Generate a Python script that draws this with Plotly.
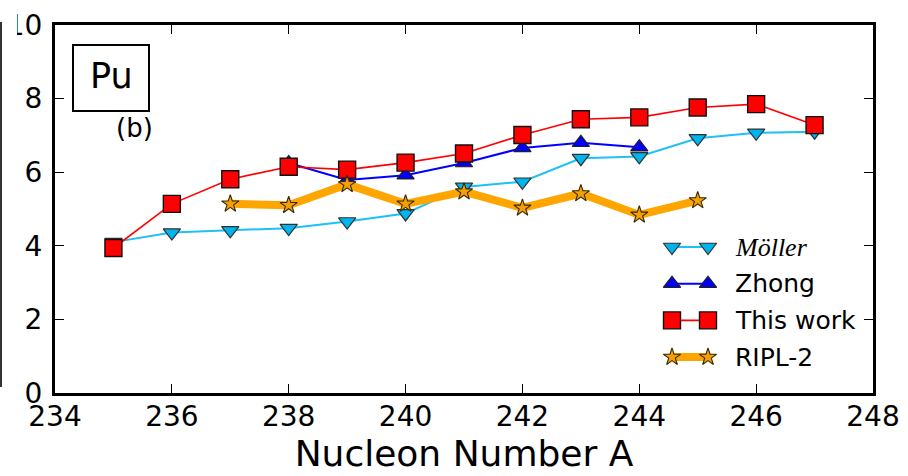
import plotly.graph_objects as go

# ---- data -------------------------------------------------------------
A_moller = [235, 236, 237, 238, 239, 240, 241, 242, 243, 244, 245, 246, 247]
moller = [4.10, 4.36, 4.42, 4.48, 4.66, 4.88, 5.60, 5.74, 6.38, 6.43, 6.92, 7.07, 7.10]

A_zhong = [238, 239, 240, 241, 242, 243, 244]
zhong = [6.25, 5.79, 5.92, 6.25, 6.66, 6.80, 6.68]

A_work = [235, 236, 237, 238, 239, 240, 241, 242, 243, 244, 245, 246, 247]
this_work = [3.94, 5.14, 5.81, 6.15, 6.07, 6.26, 6.51, 7.01, 7.44, 7.49, 7.76, 7.85, 7.28]

A_ripl = [237, 238, 239, 240, 241, 242, 243, 244, 245]
ripl2 = [5.14, 5.10, 5.67, 5.14, 5.47, 5.03, 5.42, 4.84, 5.23]

x_ticks = [234, 236, 238, 240, 242, 244, 246, 248]
y_ticks = [0, 2, 4, 6, 8, 10]

series_names = ["<i>Möller</i>", "Zhong", "This work", "RIPL-2"]

# ---- styles -----------------------------------------------------------
W, H = 908, 476
L, R, T, B = 55, 873, 25, 393          # plot area in pixels
FONT = "DejaVu Sans"

styles = [
    dict(line=dict(color="#1ec0f5", width=2),
         marker=dict(symbol="triangle-down", size=15, color="#00b4ee",
                     line=dict(color="#303030", width=1.2))),
    dict(line=dict(color="#0000ff", width=2),
         marker=dict(symbol="triangle-up", size=15, color="#0000ff",
                     line=dict(color="#202020", width=1.2))),
    dict(line=dict(color="#ff0000", width=1.6),
         marker=dict(symbol="square", size=17, color="#ff0000",
                     line=dict(color="#111111", width=1.4))),
    dict(line=dict(color="#ffa500", width=8),
         marker=dict(symbol="star", size=13, color="#f5a000",
                     line=dict(color="#3a2a00", width=1.1))),
]


def px(x):
    return (x - L) / (R - L)


def py(y):
    return (B - y) / (B - T)


fig = go.Figure()

for xs, ys, st in zip([A_moller, A_zhong, A_work, A_ripl],
                      [moller, zhong, this_work, ripl2], styles):
    fig.add_trace(go.Scatter(x=xs, y=ys, mode="lines+markers",
                             line=st["line"], marker=st["marker"],
                             showlegend=False, hoverinfo="skip"))

# ---- legend: two marker samples joined by a line, on a pixel overlay ---
LEG_X = (672, 708)
LEG_Y0, LEG_DY = 247, 36.7
LEG_TEXT_X = 733
for i, (name, st) in enumerate(zip(series_names, styles)):
    yrow = LEG_Y0 + i * LEG_DY
    fig.add_trace(go.Scatter(x=list(LEG_X), y=[yrow, yrow], mode="lines+markers",
                             line=st["line"], marker=st["marker"],
                             xaxis="x2", yaxis="y2",
                             showlegend=False, hoverinfo="skip"))
    fnt = dict(family="Liberation Serif", size=26, color="black") if i == 0 else \
        dict(family=FONT, size=25, color="black")
    fig.add_annotation(x=LEG_TEXT_X, y=yrow, xref="x2", yref="y2", text=name,
                       showarrow=False, xanchor="left", yanchor="middle", font=fnt)

# ---- element label box ------------------------------------------------
fig.add_shape(type="rect", xref="paper", yref="paper",
              x0=px(73), x1=px(149), y0=py(111), y1=py(45),
              line=dict(color="black", width=2), fillcolor="white", layer="above")
fig.add_annotation(x=px(111), y=py(76), xref="paper", yref="paper", text="Pu",
                   showarrow=False, xanchor="center", yanchor="middle",
                   font=dict(family=FONT, size=35, color="black"))
fig.add_annotation(x=px(134), y=py(128), xref="paper", yref="paper", text="(b)",
                   showarrow=False, xanchor="center", yanchor="middle",
                   font=dict(family=FONT, size=26, color="black"))

# neighbouring panel edge on the far left
fig.add_shape(type="rect", xref="paper", yref="paper",
              x0=px(3), x1=px(17), y0=py(400), y1=py(0),
              line=dict(width=0), fillcolor="white", layer="above")
fig.add_shape(type="line", xref="paper", yref="paper",
              x0=px(1), x1=px(1), y0=py(387), y1=py(22),
              line=dict(color="#333333", width=2), layer="above")

axis_common = dict(ticks="inside", ticklen=9, tickwidth=1.3, tickcolor="black",
                   showline=True, linecolor="black", linewidth=3, mirror="ticks",
                   showgrid=False, zeroline=False, automargin=False,
                   tickfont=dict(family=FONT, size=28, color="black"))

fig.update_layout(
    width=W, height=H,
    margin=dict(l=L, r=W - R, t=T, b=H - B),
    paper_bgcolor="white", plot_bgcolor="white",
    showlegend=False,
    xaxis=dict(range=[234, 248], tickvals=x_ticks, ticktext=[str(v) for v in x_ticks],
               ticklabelstandoff=-4,
               title=dict(text="Nucleon Number A", standoff=10,
                          font=dict(family=FONT, size=36, color="black")),
               **axis_common),
    yaxis=dict(range=[0, 10], tickvals=y_ticks, ticktext=[str(v) for v in y_ticks],
               ticklabelstandoff=4, **axis_common),
    xaxis2=dict(range=[L, R], overlaying="x", visible=False, anchor="y2"),
    yaxis2=dict(range=[B, T], overlaying="y", visible=False, anchor="x2"),
)

fig.write_html("out.html")
